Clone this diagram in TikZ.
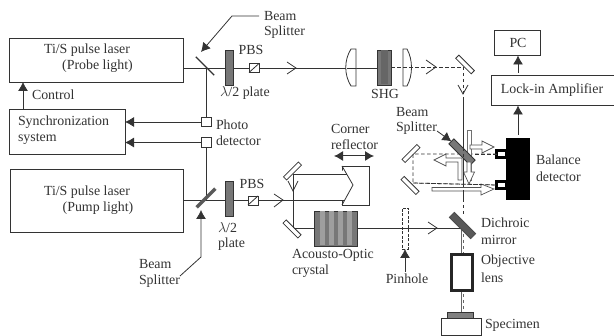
\documentclass[tikz,border=0pt]{standalone}
\usepackage{fontspec}
\setmainfont{Liberation Serif}
\usetikzlibrary{arrows.meta}
\definecolor{ink}{HTML}{333333}
\definecolor{plate}{HTML}{777777}
\tikzset{
 x=1pt,y=-1pt,
 every node/.style={inner sep=0pt,outer sep=0pt,text=ink},
 lbl/.style={font=\fontsize{13.9}{16}\selectfont,align=left},
 ctr/.style={lbl,align=center},
 box/.style={draw=ink,line width=0.9pt,fill=white,rectangle,anchor=north west},
 ray/.style={draw=ink,line width=0.8pt},
 dray/.style={draw=ink,line width=0.8pt,dash pattern=on 3.5pt off 2.5pt},
 sig/.style={draw=ink,line width=0.8pt,-{Latex[length=9pt,width=10pt]}},
 tip/.style={draw=ink,line width=0.8pt,line join=miter},
 mirror/.style={draw=ink,line width=0.8pt,fill=white,rectangle,minimum width=22pt,minimum height=4.5pt},
 platebox/.style={draw=ink,line width=0.8pt,fill=plate,rectangle,minimum width=8pt,minimum height=35pt},
 det/.style={draw=ink,line width=0.8pt,fill=white,rectangle,minimum width=10pt,minimum height=9.5pt},
 wa/.style={draw=ink!85,line width=0.7pt,fill=white,line join=miter},
}
\begin{document}
\begin{tikzpicture}
\useasboundingbox (0,0) rectangle (614,336);
\coordinate (fold) at (463,67);
\coordinate (dich) at (461,228);
\coordinate (upTurn) at (293.5,174);
\coordinate (lowTurn) at (293.5,228);
\coordinate (dashA) at (413,154);
\coordinate (dashB) at (413,183);
% boxes
\node[box,minimum width=174pt,minimum height=44pt] (probe) at (9,38) {};
\node[box,minimum width=116pt,minimum height=45pt] (sync) at (9,109) {};
\node[box,minimum width=173pt,minimum height=63pt] (pump) at (10,169) {};
\node[box,minimum width=46pt,minimum height=25pt] (pc) at (494,30) {};
\node[box,minimum width=123pt,minimum height=30pt] (lock) at (491,75) {};
\node[det] (pd1) at (206,122) {};
\node[det] (pd2) at (206,142.5) {};
\node[platebox] (hw1) at (229,67.5) {};
\node[platebox] (hw2) at (229,198.5) {};
\node[det,minimum height=9pt] (pbs1) at (254,68) {};
\node[det,minimum height=9pt] (pbs2) at (253,200.5) {};
\node[platebox,minimum width=14pt] (shg) at (384,67.5) {};
\fill[black!60] (381,50.5) rectangle (388,84.5);
\node[mirror,rotate=-45] (m1) at (465,64.5) {};
\node[mirror,rotate=45,minimum width=21pt] (mU) at (292.5,171) {};
\node[mirror,rotate=-45,minimum width=21pt] (mL) at (292,229) {};
\node[mirror,rotate=45,minimum width=21pt] (mA) at (411,153.5) {};
\node[mirror,rotate=-45,minimum width=21pt] (mB) at (410,185.5) {};
\node[box,fill=black,draw=black,minimum width=23pt,minimum height=61pt] (bal) at (506,138) {};
\node[draw=black,line width=2.6pt,fill=white,rectangle,minimum width=10pt,minimum height=7pt] (bt) at (501.5,154) {};
\node[draw=black,line width=2.6pt,fill=white,rectangle,minimum width=10pt,minimum height=7pt] (bb) at (501.5,185) {};
% connectors
\draw[ray] (probe.east |- 0,68) -- (hw1.west |- 0,68);
\draw[ray] (hw1.east |- 0,68) -- (pbs1.west |- 0,68);
\draw[ray] (pbs1.east) -- (347,68);
\draw[ray] (356,68) -- (shg.west |- 0,68);
\draw[ray] (206,68) -- (pd1.north);
\draw[ray] (pd2.south) -- (206,200);
\draw[ray] (pump.east |- 0,200) -- (hw2.west |- 0,200);
\draw[ray] (hw2.east |- 0,200) -- (pbs2.west |- 0,200);
\draw[ray] (pbs2.east) -- (342,200.5);
\draw[ray] (upTurn) -- (lowTurn);
\draw[dray] (shg.east |- 0,67) -- (fold);
\draw[dray] (fold) -- (463,215);
\draw[ray,draw=ink!75] (dich) -- (461,312);
\draw[dray,draw=ink!75] (463,228) -- (463,312);
\draw[dray] (bt.west) -- (dashA) -- (dashB) -- (bb.west);
\draw[sig] (pd1.west) -- (sync.east |- pd1.west);
\draw[sig] (pd2.west) -- (sync.east |- pd2.west);
\draw[sig] (23,109) -- (23,82);
\draw[sig] (518,135) -- (518,105.5);
\draw[sig] (518,73) -- (518,55.5);
% PBS diagonals
\draw[ink,line width=0.8pt] (pbs1.south west) -- (pbs1.north east);
\draw[ink,line width=0.8pt] (pbs2.south west) -- (pbs2.north east);
% splitters
\node[draw=ink,line width=1.4pt,rectangle,minimum width=26pt,minimum height=0pt,rotate=-45] (bs1) at (205,66) {};
\node[draw=black!65,fill=black!65,rectangle,minimum width=26pt,minimum height=3pt,rotate=45] (bs2) at (206,198) {};
% lenses
\draw[ink,line width=0.8pt,fill=white] (356,49) -- (351,49) .. controls (344,60) and (344,75) .. (351,86) -- (356,86) -- cycle;
\draw[ink,line width=0.8pt,fill=white] (403,49) -- (407,49) .. controls (413,60) and (413,75) .. (407,86) -- (403,86) -- cycle;
\draw[dray] (403,67) -- (412,67);
\draw[ray] (347,68) -- (356,68);
% open arrow heads
\draw[tip] (287,62) -- (296,68) -- (287,74);
\draw[tip] (426,60) -- (436,67) -- (426,74);
\draw[tip] (458,85) -- (463,94) -- (468,85);
\draw[tip] (274,194) -- (283,200) -- (274,207);
\draw[tip] (288,181) -- (293,191) -- (298,181);
\draw[tip] (428,222) -- (437,228) -- (428,234);
% corner reflector
\node[draw=ink,line width=0.8pt,fill=white,rectangle,minimum width=27pt,minimum height=39pt] (corner) at (355.5,185.5) {};
\fill[white] (340,167) -- (352,185.5) -- (340,204) -- cycle;
\draw[ray] (upTurn) -- (347,174);
\draw[ray] (pbs2.east) -- (345,200.5);
\draw[ink,line width=0.8pt] (342,166) -- (353,185) -- (342,205);
\draw[draw=ink,line width=1pt,{Latex[length=9pt,width=10pt]}-{Latex[length=9pt,width=10pt]}] (334,156) -- (374,156);
% acousto-optic crystal
\node[box,fill=plate,minimum width=43pt,minimum height=35pt] (aoc) at (314,211) {};
\foreach \s in {320,329,338,347} \fill[black!38] (\s,211.5) rectangle ++(4.5,34);
\draw[ray] (lowTurn) -- (aoc.west |- lowTurn);
\draw[ray] (aoc.east |- dich) -- (dich);
% pinhole
\node[draw=ink,line width=0.8pt,dash pattern=on 3pt off 1.5pt,fill=white,rectangle,minimum width=6pt,minimum height=41pt] (pin) at (405,228.5) {};
\draw[ray] (pin.west |- dich) -- (pin.east |- dich);
\draw[sig] (405,272) -- (pin.south);
% beam-splitter stack
\draw[draw=ink!70,line width=0.7pt,fill=white] (467.5,130) rectangle (471,180);
\node[draw=ink,fill=plate,line width=0.8pt,rectangle,minimum width=30pt,minimum height=7pt,rotate=-45] (bs3) at (462,152) {};
\draw[wa] (470,145) -- (482,145) -- (482,141) -- (494,147) -- (482,153) -- (482,149) -- (470,149) -- cycle;
\draw[wa] (458,180) -- (458,162) -- (446,162) -- (446,166) -- (434,160) -- (446,154) -- (446,158) -- (462,158) -- (462,180) -- cycle;
\draw[wa] (467,162) -- (467,172) -- (463.5,172) -- (469,184) -- (474.5,172) -- (471,172) -- (471,162) -- cycle;
\draw[wa] (432,187.5) -- (481,187.5) -- (481,184) -- (494,189) -- (481,195) -- (481,191) -- (432,191) -- cycle;
\draw[dray] (463,100) -- (463,200);
\draw[dray] (bt.west) -- (474,154);
\draw[dray] (dashB) -- (bb.west);
% dichroic mirror
\node[draw=black!70,fill=black!65,line width=0.8pt,rectangle,minimum width=30pt,minimum height=7pt,rotate=-45] (bs4) at (462.5,225.5) {};
% objective
\node[draw=black!85,line width=2.6pt,fill=white,rectangle,minimum width=21pt,minimum height=36pt] (obj) at (462,272.5) {};
% specimen
\node[box,minimum width=40pt,minimum height=17pt] (spec) at (441,318) {};
\node[draw=ink,fill=black!50,line width=0.6pt,rectangle,minimum width=26pt,minimum height=6pt,anchor=south west] (sample) at (447,318) {};
% callout arrows
\coordinate (c1) at (259,16);
\coordinate (c2) at (232,16);
\draw[sig] (c1) -- (c2) -- (201,52);
\coordinate (c3) at (180,276);
\coordinate (c4) at (201,257);
\draw[sig] (c3) -- (c4) -- (201,210);
\coordinate (c5) at (437,131);
\draw[sig] (c5) -- (bs3.west);
% labels
\node[ctr] at (87,50) {Ti/S pulse laser};
\node[ctr] at (97.5,66.5) {(Probe light)};
\node[ctr] at (87,192) {Ti/S  pulse laser};
\node[ctr] at (98,208.5) {(Pump light)};
\node[lbl,anchor=west] at (18,122) {Synchronization};
\node[lbl,anchor=west] at (18,139) {system};
\node[lbl,anchor=west] at (32,95) {Control};
\node[lbl,anchor=west] at (264,16) {Beam};
\node[lbl,anchor=west] at (264,32.5) {Splitter};
\node[ctr] at (251,50) {PBS};
\node[ctr] at (245,93) {$\lambda$/2 plate};
\node[lbl,anchor=west] at (216,124.5) {Photo};
\node[lbl,anchor=west] at (216,140.5) {detector};
\node[ctr] at (385,94) {SHG};
\node[ctr] at (518,42.5) {PC};
\node[ctr] at (552,90) {Lock-in Amplifier};
\node[lbl,anchor=west] at (396,112.5) {Beam};
\node[lbl,anchor=west] at (396,128.5) {Splitter};
\node[lbl,anchor=west] at (331,128.5) {Corner};
\node[lbl,anchor=west] at (331,144.5) {reflector};
\node[lbl,anchor=west] at (536,160) {Balance};
\node[lbl,anchor=west] at (536,176.5) {detector};
\node[ctr] at (252,183.5) {PBS};
\node[lbl,anchor=west] at (218,227.5) {$\lambda$/2};
\node[lbl,anchor=west] at (218,244) {plate};
\node[lbl,anchor=west] at (139,264.5) {Beam};
\node[lbl,anchor=west] at (139,281.5) {Splitter};
\node[lbl,anchor=west] at (292,255.5) {Acousto-Optic};
\node[lbl,anchor=west] at (292,271.5) {crystal};
\node[ctr] at (407,278.5) {Pinhole};
\node[lbl,anchor=west] at (481,222.5) {Dichroic};
\node[lbl,anchor=west] at (481,239.5) {mirror};
\node[lbl,anchor=west] at (481,261.5) {Objective};
\node[lbl,anchor=west] at (481,277.5) {lens};
\node[lbl,anchor=west] at (485,325.5) {Specimen};
\end{tikzpicture}
\end{document}
